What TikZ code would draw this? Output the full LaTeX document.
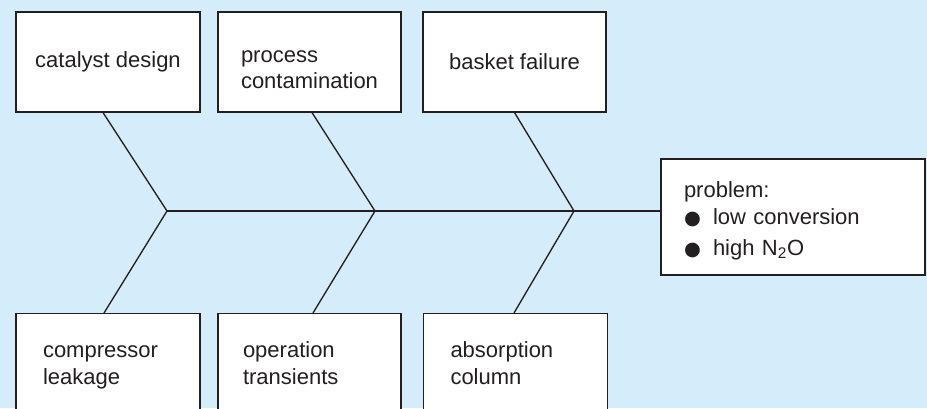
\documentclass[tikz,border=0pt]{standalone}
\usepackage{fontspec}
\setmainfont{Liberation Sans}
\newfontfamily\symfont{DejaVu Sans}
\usepackage{tikz}
\usepackage{xcolor}
\definecolor{bgblue}{RGB}{213,236,250}
\definecolor{inkgray}{RGB}{35,31,32}
\newcommand{\bul}{\makebox[21.75pt][l]{\symfont\fontsize{14.5}{14.5}\selectfont ●}}

\begin{document}
\begin{tikzpicture}[x=0.75pt, y=-0.75pt,
  every node/.style={font=\fontsize{16.5}{20}\selectfont, text=inkgray},
  causebox/.style={draw=inkgray, line width=0.8pt, fill=white, minimum width=138pt, minimum height=75pt, align=left},
  lowbox/.style={draw=inkgray, line width=0.8pt, fill=white, anchor=north, text width=97.5pt, inner xsep=20.25pt, minimum height=78pt, align=left,
    execute at begin node=\strut, execute at end node=\strut},
  rib/.style={line width=1pt, inkgray}]
\useasboundingbox (0,0) rectangle (927,408);
\clip (0,0) rectangle (927,408);
\fill[bgblue] (0,0) rectangle (927,408);
% --- cause boxes, upper row ---
\node[causebox] (catalyst) at (108,62) {catalyst design};
\node[causebox, minimum width=137.25pt] (contam) at (309.5,62) {\rule{0pt}{26pt}process\\contamination\strut};
\node[causebox, minimum width=137.25pt] (basket) at (514.5,62) {basket failure};
% --- cause boxes, lower row ---
\node[lowbox] (compr) at (108,313) {compressor\\leakage};
\node[lowbox, text width=99.75pt, inner xsep=18.75pt] (transient) at (309.5,313) {operation\\transients};
\node[lowbox] (absorb) at (515.5,313) {absorption\\column};
% --- effect box ---
\node[draw=inkgray, line width=0.8pt, fill=white, text width=163.5pt, inner xsep=17.25pt, minimum height=87pt, align=left] (problem) at (793,217)
  {\rule{0pt}{20pt}problem:\\ \bul low conversion\\[3.5pt] \bul high N\textsubscript{2}O\strut};
% --- spine and ribs ---
\coordinate (j1) at (167,211);
\coordinate (j2) at (375,211);
\coordinate (j3) at (574,211);
\draw[line width=1.1pt, inkgray] (j1) -- (j1 -| problem.west);
\draw[rib] (catalyst.south) ++(-5,0) -- (j1) -- (compr.north -| 104,0);
\draw[rib] (contam.south -| 312,0) -- (j2) -- (transient.north -| 313,0);
\draw[rib] (basket.south) -- (j3) -- (absorb.north -| 514,0);
\end{tikzpicture}
\end{document}
